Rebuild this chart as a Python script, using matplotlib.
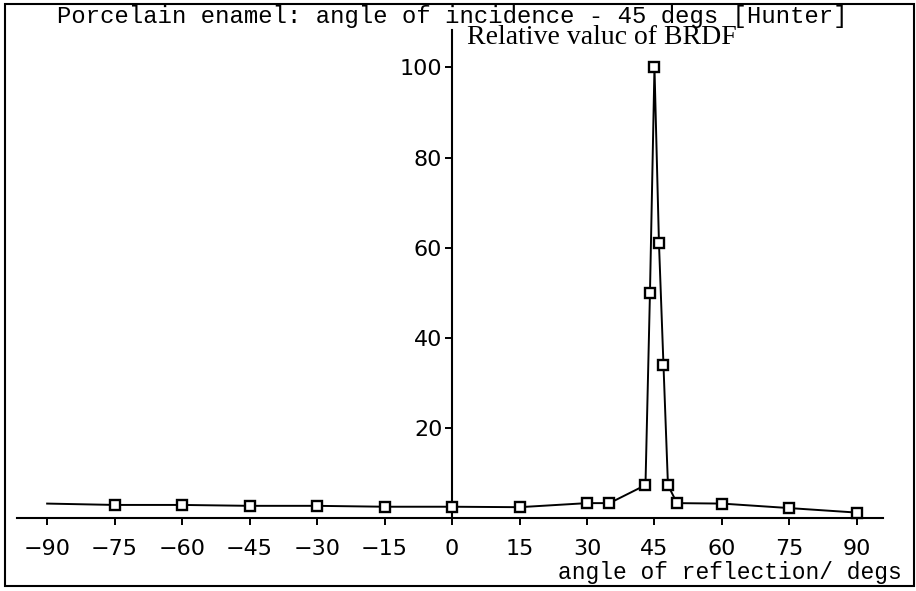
import matplotlib
matplotlib.use("Agg")
import matplotlib.pyplot as plt
from matplotlib.patches import Rectangle

# --- Data (Hunter, porcelain enamel, 45 deg incidence)
angle = [-90, -75, -60, -45, -30, -15, 0, 15, 30, 35, 43, 44, 45, 46, 47, 48, 50, 60, 75, 90]
brdf = [3.2, 2.9, 2.9, 2.7, 2.7, 2.5, 2.5, 2.4, 3.3, 3.3, 7.3, 50, 100, 61, 34, 7.3, 3.3, 3.2, 2.2, 1.2]

x_ticks = [-90, -75, -60, -45, -30, -15, 0, 15, 30, 45, 60, 75, 90]
y_ticks = [20, 40, 60, 80, 100]

TITLE = "Porcelain enamel: angle of incidence - 45 degs [Hunter]"
Y_LABEL = "Relative valuc of BRDF"
X_LABEL = "angle of reflection/ degs"

W, H = 916, 591
DPI = 100
fig = plt.figure(figsize=(W / DPI, H / DPI), dpi=DPI)

# axes placement (pixels -> figure fractions)
ax_left, ax_right = 17, 883
ax_bottom, ax_top = 518, 30
ax = fig.add_axes([ax_left / W, 1 - ax_bottom / H,
                   (ax_right - ax_left) / W, (ax_bottom - ax_top) / H])

ax.plot(angle, brdf, color="black", linewidth=1.4, marker="s",
        markersize=7, markerfacecolor="white", markeredgecolor="black",
        markeredgewidth=1.7, markevery=list(range(1, len(angle))),
        zorder=3, clip_on=False)

ax.set_xlim(-96.7, 95.8)
ax.set_ylim(0, 108.3)

for s in ("top", "right"):
    ax.spines[s].set_visible(False)
ax.spines["left"].set_position(("data", 0))
ax.spines["bottom"].set_position(("data", 0))
ax.spines["left"].set_linewidth(1.5)
ax.spines["bottom"].set_linewidth(1.5)

ax.set_xticks(x_ticks)
ax.set_xticklabels([str(t).replace("-", "\u2212") for t in x_ticks])
ax.set_yticks(y_ticks)
ax.tick_params(axis="x", direction="out", length=5, width=1.4, pad=10,
               labelsize=16)
ax.tick_params(axis="y", direction="out", length=5, width=1.4, pad=2,
               labelsize=16)

fig.text(452 / W, 1 - 16 / H, TITLE, family="Liberation Mono",
         fontsize=17.2, ha="center", va="center")
fig.text(467 / W, 1 - 38 / H, Y_LABEL, family="Liberation Serif",
         fontsize=20, ha="left", va="center")
fig.text(902 / W, 1 - 573 / H, X_LABEL, family="Liberation Mono",
         fontsize=16.5, ha="right", va="center")

# outer frame around the whole figure
fig.patches.append(Rectangle((5 / W, 1 - 586 / H), 909 / W, 582 / H,
                             transform=fig.transFigure, fill=False,
                             edgecolor="black", linewidth=1.5))

fig.savefig("out.png", dpi=DPI)
